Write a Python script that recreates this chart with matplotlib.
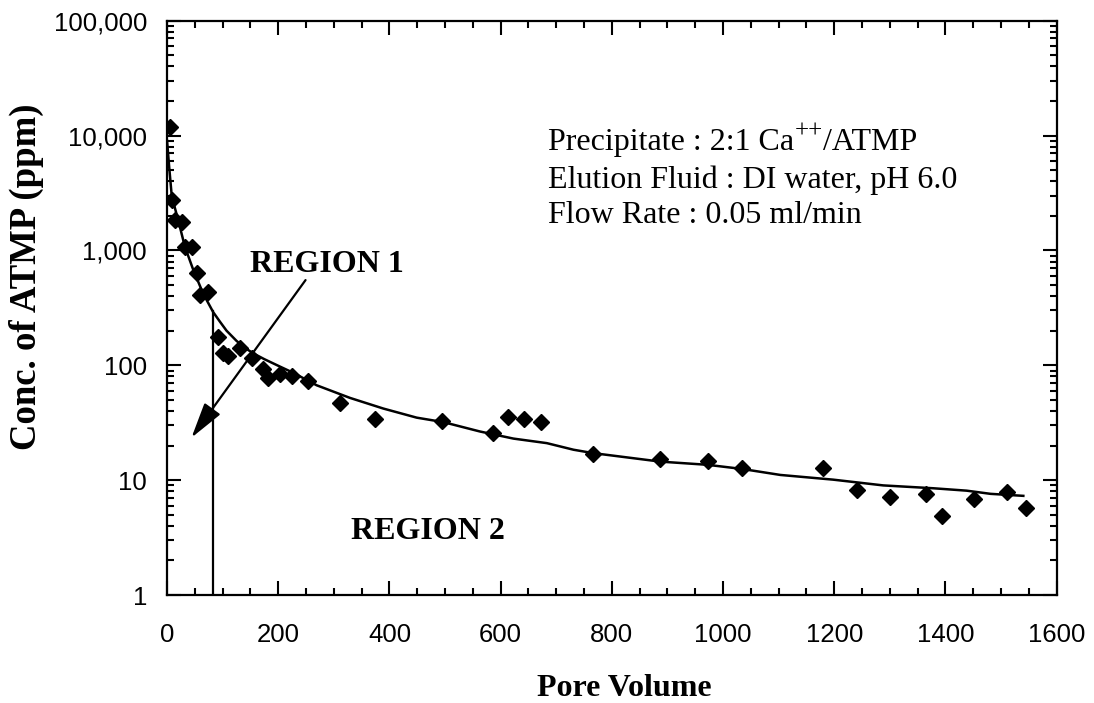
import matplotlib
matplotlib.use('Agg')
import matplotlib.pyplot as plt
import numpy as np

plt.rcParams['font.family'] = 'Liberation Sans'

# measured points (pore volume, ppm)
pore_volume = [5, 8, 14, 26, 32, 44, 53, 59, 74, 92, 101, 110, 131, 152, 173, 182,
               203, 224, 254, 311, 374, 494, 586, 613, 642, 673, 766, 887, 973,
               1034, 1180, 1241, 1300, 1365, 1394, 1451, 1511, 1545]
conc = [11900, 2750, 1840, 1780, 1080, 1065, 633, 410, 438, 177, 127, 121, 141, 115,
        92, 78, 84, 80, 73, 47, 34, 33, 25.8, 35.6, 34.2, 32.2, 16.9, 15.3, 14.7,
        12.8, 12.8, 8.2, 7.1, 7.6, 4.9, 6.9, 7.9, 5.75]

# fitted curve
curve_x = [0, 4, 8, 14, 20, 32, 47, 65, 83, 95, 107, 125, 140, 155, 175, 200, 227,
           269, 329, 389, 449, 497, 563, 623, 683, 731, 766, 887, 972, 1035, 1103,
           1198, 1288, 1378, 1438, 1481, 1540]
curve_y = [9000, 5200, 3150, 2350, 1840, 1080, 680, 420, 290, 240, 200, 163, 142, 127,
           113, 99, 86, 67, 52, 42, 35, 32, 26.5, 23, 21, 18.4, 17.2, 14.5, 13.6,
           12.5, 11.1, 10.1, 9.0, 8.5, 8.1, 7.6, 7.3]

region_split = 82
yticks = [1, 10, 100, 1000, 10000, 100000]
ytick_labels = ['1', '10', '100', '1,000', '10,000', '100,000']
xticks = [0, 200, 400, 600, 800, 1000, 1200, 1400, 1600]

fig = plt.figure(figsize=(10.94, 7.03), dpi=100)
ax = fig.add_axes([0.1527, 0.1536, 0.8132, 0.817])

ax.plot(curve_x, curve_y, color='black', lw=1.8)
ax.plot(pore_volume, conc, linestyle='none', marker='D', color='black', markersize=8.5)

# boundary between the two regions
split_top = np.interp(region_split, curve_x, curve_y)
ax.plot([region_split, region_split], [1, split_top], color='black', lw=1.6)

ax.annotate('', xy=(41, 22.4), xytext=(252, 577),
            arrowprops=dict(arrowstyle='-|>,head_length=1.1,head_width=0.3',
                            mutation_scale=20, color='black', lw=1.6))

serif_b = dict(family='Liberation Serif', fontweight='bold')
ax.text(288, 750, 'REGION 1', ha='center', va='center', fontsize=23, **serif_b)
ax.text(469, 3.6, 'REGION 2', ha='center', va='center', fontsize=23, **serif_b)

# info block; Ca++ superscript built from separate pieces
info_x = 0.428
info_y = [0.775, 0.709, 0.648]
t1 = ax.text(info_x, info_y[0], 'Precipitate : 2:1 Ca', transform=ax.transAxes,
             ha='left', va='baseline', fontsize=23, family='Liberation Serif')
pp = ax.annotate('++', xy=(1.005, 0.86), xycoords=t1, ha='left', va='center',
                 fontsize=18, family='Liberation Serif')
ax.annotate('/ATMP', xy=(1, info_y[0]), xycoords=(pp, 'axes fraction'),
            ha='left', va='baseline', fontsize=23, family='Liberation Serif')
ax.text(info_x, info_y[1], 'Elution Fluid : DI water, pH 6.0', transform=ax.transAxes,
        ha='left', va='baseline', fontsize=23, family='Liberation Serif')
ax.text(info_x, info_y[2], 'Flow Rate : 0.05 ml/min', transform=ax.transAxes,
        ha='left', va='baseline', fontsize=23, family='Liberation Serif')

ax.set_yscale('log')
ax.set_xlim(0, 1600)
ax.set_ylim(1, 100000)
ax.set_yticks(yticks)
ax.set_yticklabels(ytick_labels)
ax.set_xticks(xticks)
ax.set_xticks(np.arange(0, 1601, 50), minor=True)

ax.tick_params(which='both', direction='in', top=True, right=True, width=1.5,
               labelsize=18.5)
ax.tick_params(which='major', length=10)
ax.tick_params(which='minor', length=5)
ax.tick_params(axis='x', which='both', pad=20)
ax.tick_params(axis='y', which='both', pad=14.5)
for s in ax.spines.values():
    s.set_linewidth(1.6)

ax.set_xlabel('Pore Volume', fontsize=23, **serif_b)
ax.set_ylabel('Conc. of ATMP (ppm)', fontsize=26.5, **serif_b)
ax.xaxis.label.set_va('center')
ax.yaxis.label.set_va('center')
ax.xaxis.set_label_coords(0.514, -0.162)
ax.yaxis.set_label_coords(-0.158, 0.555)

fig.savefig('out.png', dpi=100)
